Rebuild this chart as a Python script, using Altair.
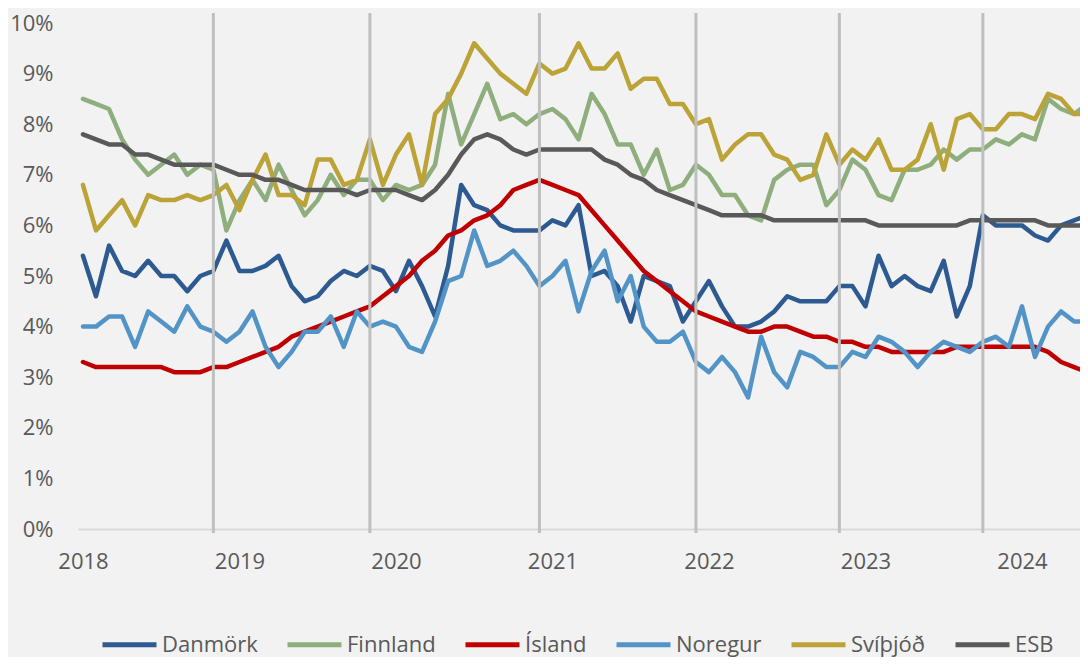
import altair as alt
import pandas as pd

series_names = ["Danmörk", "Finnland", "Ísland", "Noregur", "Svíþjóð", "ESB"]
series_colors = ["#2c5a91", "#8fae7e", "#c00000", "#5394c7", "#bba337", "#595959"]

years = ["2018", "2019", "2020", "2021", "2022", "2023", "2024"]
months = [f"{y}-{m:02d}" for y in range(2018, 2025) for m in range(1, 13)][:78]

danmork = [5.4, 4.6, 5.6, 5.1, 5.0, 5.3, 5.0, 5.0, 4.7, 5.0, 5.1, 5.7, 5.1, 5.1, 5.2, 5.4, 4.8, 4.5, 4.6, 4.9, 5.1,
           5.0, 5.2, 5.1, 4.7, 5.3, 4.8, 4.2, 5.2, 6.8, 6.4, 6.3, 6.0, 5.9, 5.9, 5.9, 6.1, 6.0, 6.4, 5.0, 5.1,
           4.8, 4.1, 5.0, 4.9, 4.8, 4.1, 4.5, 4.9, 4.4, 4.0, 4.0, 4.1, 4.3, 4.6, 4.5, 4.5, 4.5, 4.8, 4.8, 4.4,
           5.4, 4.8, 5.0, 4.8, 4.7, 5.3, 4.2, 4.8, 6.2, 6.0, 6.0, 6.0, 5.8, 5.7, 6.0, 6.1, 6.2]
finnland = [8.5, 8.4, 8.3, 7.7, 7.3, 7.0, 7.2, 7.4, 7.0, 7.2, 7.1, 5.9, 6.5, 6.9, 6.5, 7.2, 6.7, 6.2, 6.5, 7.0, 6.6,
            6.9, 6.9, 6.5, 6.8, 6.7, 6.8, 7.2, 8.6, 7.6, 8.2, 8.8, 8.1, 8.2, 8.0, 8.2, 8.3, 8.1, 7.7, 8.6, 8.2,
            7.6, 7.6, 7.0, 7.5, 6.7, 6.8, 7.2, 7.0, 6.6, 6.6, 6.2, 6.1, 6.9, 7.1, 7.2, 7.2, 6.4, 6.7, 7.3, 7.1,
            6.6, 6.5, 7.1, 7.1, 7.2, 7.5, 7.3, 7.5, 7.5, 7.7, 7.6, 7.8, 7.7, 8.5, 8.3, 8.2, 8.4]
island = [3.3, 3.2, 3.2, 3.2, 3.2, 3.2, 3.2, 3.1, 3.1, 3.1, 3.2, 3.2, 3.3, 3.4, 3.5, 3.6, 3.8, 3.9, 4.0, 4.1, 4.2,
          4.3, 4.4, 4.6, 4.8, 5.0, 5.3, 5.5, 5.8, 5.9, 6.1, 6.2, 6.4, 6.7, 6.8, 6.9, 6.8, 6.7, 6.6, 6.3, 6.0,
          5.7, 5.4, 5.1, 4.9, 4.7, 4.5, 4.3, 4.2, 4.1, 4.0, 3.9, 3.9, 4.0, 4.0, 3.9, 3.8, 3.8, 3.7, 3.7, 3.6,
          3.6, 3.5, 3.5, 3.5, 3.5, 3.5, 3.6, 3.6, 3.6, 3.6, 3.6, 3.6, 3.6, 3.5, 3.3, 3.2, 3.1]
noregur = [4.0, 4.0, 4.2, 4.2, 3.6, 4.3, 4.1, 3.9, 4.4, 4.0, 3.9, 3.7, 3.9, 4.3, 3.6, 3.2, 3.5, 3.9, 3.9, 4.2, 3.6,
           4.3, 4.0, 4.1, 4.0, 3.6, 3.5, 4.1, 4.9, 5.0, 5.9, 5.2, 5.3, 5.5, 5.2, 4.8, 5.0, 5.3, 4.3, 5.1, 5.5,
           4.5, 5.0, 4.0, 3.7, 3.7, 3.9, 3.3, 3.1, 3.4, 3.1, 2.6, 3.8, 3.1, 2.8, 3.5, 3.4, 3.2, 3.2, 3.5, 3.4,
           3.8, 3.7, 3.5, 3.2, 3.5, 3.7, 3.6, 3.5, 3.7, 3.8, 3.6, 4.4, 3.4, 4.0, 4.3, 4.1, 4.1]
svithjod = [6.8, 5.9, 6.2, 6.5, 6.0, 6.6, 6.5, 6.5, 6.6, 6.5, 6.6, 6.8, 6.3, 6.9, 7.4, 6.6, 6.6, 6.4, 7.3, 7.3, 6.8,
            6.9, 7.7, 6.8, 7.4, 7.8, 6.8, 8.2, 8.5, 9.0, 9.6, 9.3, 9.0, 8.8, 8.6, 9.2, 9.0, 9.1, 9.6, 9.1, 9.1,
            9.4, 8.7, 8.9, 8.9, 8.4, 8.4, 8.0, 8.1, 7.3, 7.6, 7.8, 7.8, 7.4, 7.3, 6.9, 7.0, 7.8, 7.2, 7.5, 7.3,
            7.7, 7.1, 7.1, 7.3, 8.0, 7.1, 8.1, 8.2, 7.9, 7.9, 8.2, 8.2, 8.1, 8.6, 8.5, 8.2, 8.2]
esb = [7.8, 7.7, 7.6, 7.6, 7.4, 7.4, 7.3, 7.2, 7.2, 7.2, 7.2, 7.1, 7.0, 7.0, 6.9, 6.9, 6.8, 6.7, 6.7, 6.7, 6.7,
       6.6, 6.7, 6.7, 6.7, 6.6, 6.5, 6.7, 7.0, 7.4, 7.7, 7.8, 7.7, 7.5, 7.4, 7.5, 7.5, 7.5, 7.5, 7.5, 7.3,
       7.2, 7.0, 6.9, 6.7, 6.6, 6.5, 6.4, 6.3, 6.2, 6.2, 6.2, 6.2, 6.1, 6.1, 6.1, 6.1, 6.1, 6.1, 6.1, 6.1,
       6.0, 6.0, 6.0, 6.0, 6.0, 6.0, 6.0, 6.1, 6.1, 6.1, 6.1, 6.1, 6.1, 6.0, 6.0, 6.0, 6.0]

event_months = ["2018-11", "2019-11", "2020-12", "2021-12", "2022-11", "2023-10"]

all_series = [danmork, finnland, island, noregur, svithjod, esb]
rows = []
for name, vals in zip(series_names, all_series):
    for i, v in enumerate(vals):
        rows.append({"idx": i, "month": months[i], "series": name, "value": v})
df = pd.DataFrame(rows)

ev = pd.DataFrame({"idx": [months.index(m) for m in event_months], "lo": -0.08, "hi": 10.2})

FONT = "Open Sans"
GREY = "#595959"

year_arr = "[" + ",".join(f"'{y}'" for y in years) + "]"

# the visible window ends a little before the last month (it runs off the right edge)
x_scale = alt.Scale(domain=[-0.38, 76.45], nice=False, zero=False)
y_scale = alt.Scale(domain=[0, 10], nice=False)

lines = alt.Chart(df).mark_line(strokeWidth=4.5, strokeJoin="round", strokeCap="round", clip=True).encode(
    x=alt.X("idx:Q", scale=x_scale,
            axis=alt.Axis(values=[12 * k for k in range(len(years))],
                          labelExpr=f"{year_arr}[datum.value/12]",
                          title=None, grid=False, ticks=False, domain=True,
                          domainColor="#d9d9d9", domainWidth=2,
                          labelFont=FONT, labelFontSize=22, labelColor=GREY,
                          labelPadding=22, labelFlush=False)),
    y=alt.Y("value:Q", scale=y_scale,
            axis=alt.Axis(values=list(range(0, 11)), labelExpr="datum.value + '%'",
                          title=None, grid=False, ticks=False, domain=False,
                          labelFont=FONT, labelFontSize=22, labelColor=GREY,
                          labelPadding=25)),
    color=alt.Color("series:N",
                    scale=alt.Scale(domain=series_names, range=series_colors),
                    sort=series_names,
                    legend=alt.Legend(title=None, orient="none", direction="horizontal",
                                      legendX=22, legendY=592,
                                      symbolType="stroke", symbolSize=2916,
                                      symbolStrokeWidth=5, labelFont=FONT,
                                      labelFontSize=22, labelColor=GREY,
                                      labelOffset=3, columnPadding=19,
                                      labelLimit=300)),
    order=alt.Order("idx:Q"),
    detail="series:N",
)

rules = alt.Chart(ev).mark_rule(color="#bfbfbf", strokeWidth=3, clip=False).encode(
    x=alt.X("idx:Q", scale=x_scale),
    y=alt.Y("lo:Q", scale=y_scale),
    y2="hi:Q",
)

chart = alt.layer(lines, rules).properties(
    width=1002, height=506,
    autosize=alt.AutoSizeParams(type="none"),
    padding={"left": 70, "top": 15, "right": 0, "bottom": 128},
    background="#f2f2f2",
).configure_view(stroke=None)

chart.save("out.html", embed_options={"renderer": "svg", "actions": False})
